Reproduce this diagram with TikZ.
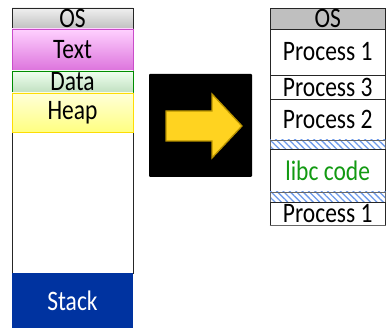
\documentclass[tikz,border=0pt]{standalone}
\usepackage{fontspec}
\setmainfont{Carlito}
\usetikzlibrary{patterns.meta}

\definecolor{stackblue}{HTML}{0033A0}
\definecolor{arrowgold}{HTML}{FFD320}
\definecolor{arrowedge}{HTML}{B89200}
\definecolor{libcgreen}{HTML}{129A12}
\definecolor{hatchblue}{HTML}{6E9BEB}

\newcommand{\tall}[1]{\scalebox{1}[1.2]{#1}}

\begin{document}
\begin{tikzpicture}[x=1pt,y=-1pt]
			\tikzstyle{seg} = [
				rectangle, draw = black!85, line width = 0.9pt,
				inner sep = 0pt, minimum width = 121pt,
				font = \fontsize{23.5}{26}\selectfont
			]
			\tikzstyle{slot} = [seg, minimum width = 115.5pt, fill = white]
			\tikzstyle{hatch} = [
				slot, draw = black!60, line width = 0.6pt,
				preaction = {fill = white},
				pattern = {Lines[angle = -45, distance = 4.5pt, line width = 1.3pt]},
				pattern color = hatchblue
			]
			\useasboundingbox (0,0) rectangle (386,328);
			% process layout before
			\draw[black!85, line width = 0.9pt] (12,8) rectangle (133,273);
			\node[seg, top color = black!6, bottom color = black!25, minimum height = 21pt] (os1) at (72.5,18.5) {\tall{OS}};
			\node[seg, draw = violet!60!magenta!70, top color = magenta!18, bottom color = magenta!50!violet!55, minimum height = 42pt] (text) at (72.5,50) {\tall{Text}};
			\node[seg, draw = green!55!black, top color = green!6!white, bottom color = green!50!black!25, minimum height = 22pt] (data) at (72.5,82) {\tall{Data}};
			\node[seg, draw = yellow!80!orange, top color = yellow!15, bottom color = yellow!50, minimum height = 39.5pt] (heap) at (72.5,112.75) {\tall{Heap}};
			\node[seg, draw = none, fill = stackblue, text = white, minimum height = 55pt] (stack) at (72.5,300.5) {\tall{Stack}};
			% arrow
			\fill[black, rounded corners = 1pt] (149,74) rectangle (252,177);
			\draw[arrowedge, fill = arrowgold, line width = 1.3pt, line join = miter]
				(166,111) -- (212,111) -- (212,94) -- (242,126) -- (212,158) -- (212,141) -- (166,141) -- cycle;
			% memory after
			\node[slot, fill = black!25, minimum height = 21pt] (os2) at (327.75,18.5) {\tall{OS}};
			\node[slot, minimum height = 46pt] (p1) at (327.75,52) {\tall{Process 1}};
			\node[slot, minimum height = 24pt] (p3) at (327.75,87) {\tall{Process 3}};
			\node[slot, minimum height = 41pt] (p2) at (327.75,119.5) {\tall{Process 2}};
			\node[hatch, minimum height = 9pt] (gap1) at (327.75,144.5) {};
			\node[slot, text = libcgreen, minimum height = 43pt] (libc) at (327.75,170.5) {\tall{libc code}};
			\node[hatch, minimum height = 10pt] (gap2) at (327.75,197) {};
			\node[slot, minimum height = 23pt] (p1b) at (327.75,213.5) {\tall{Process 1}};
			\draw[black!60, line width = 1.6pt] (p1b.south west) -- (p1b.south east);
		\end{tikzpicture}
\end{document}
